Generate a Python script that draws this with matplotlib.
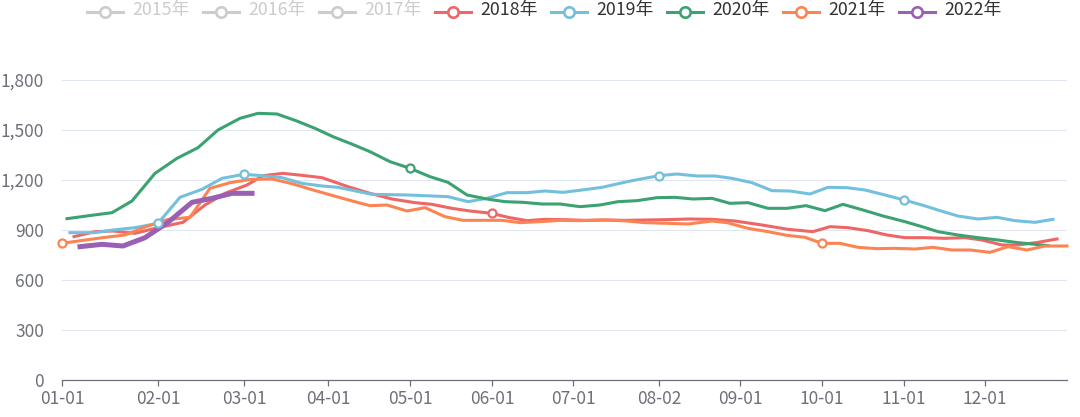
import matplotlib
matplotlib.use("Agg")
import matplotlib.pyplot as plt
from matplotlib.lines import Line2D
from matplotlib.ticker import FuncFormatter

plt.rcParams["font.family"] = ["Noto Sans CJK SC", "DejaVu Sans"]

# x axis is in "week slots" from 01-01 (= 0) to the last slot
TICK_POS = [0, 4.8, 9.1, 13.3, 17.4, 21.5, 25.55, 29.85, 33.9, 38.0, 42.1, 46.15]
TICK_LABELS = ["01-01", "02-01", "03-01", "04-01", "05-01", "06-01",
               "07-01", "08-02", "09-01", "10-01", "11-01", "12-01"]
X_END = 50.25
Y_TICKS = [0, 300, 600, 900, 1200, 1500, 1800]

LEGEND_YEARS = ["2015年", "2016年", "2017年", "2018年",
                "2019年", "2020年", "2021年", "2022年"]
LEGEND_ACTIVE = [False, False, False, True, True, True, True, True]

x_2018 = [0.6, 1.65, 2.55, 3.65, 4.8, 6.05, 7.15, 8.15, 9.25, 10.05, 11.05,
          12.15, 13.0, 14.3, 15.4, 16.5, 17.65, 18.5, 19.5, 20.4, 21.5, 22.3,
          23.25, 24.15, 25.15, 26.15, 27.15, 28.15, 29.15, 30.15, 31.4, 32.5,
          33.65, 35.0, 36.3, 37.55, 38.4, 39.3, 40.3, 41.25, 42.15, 43.15,
          44.15, 45.15, 46.0, 47.0, 47.8, 48.8, 49.75]
y_2018 = [860, 890, 894, 880, 914, 946, 1050, 1120, 1170, 1226, 1240, 1226,
          1214, 1160, 1120, 1086, 1064, 1054, 1030, 1014, 1000, 976, 956, 964,
          962, 958, 960, 958, 960, 962, 966, 964, 954, 930, 904, 890, 920, 914,
          896, 870, 854, 854, 850, 854, 840, 810, 810, 826, 846]
sym_2018 = [21.5]

x_2019 = [0.4, 1.65, 2.55, 3.65, 4.8, 5.9, 7.0, 8.0, 9.1, 10.0, 11.0, 12.0,
          13.0, 13.8, 14.65, 15.5, 16.4, 17.3, 18.5, 19.3, 20.3, 21.25, 22.25,
          23.25, 24.15, 25.05, 26.0, 27.0, 27.75, 28.5, 29.85, 30.75, 31.75,
          32.65, 33.5, 34.5, 35.5, 36.4, 37.4, 38.3, 39.25, 40.15, 41.15, 42.1,
          43.0, 43.9, 44.8, 45.8, 46.75, 47.65, 48.65, 49.55]
y_2019 = [884, 884, 900, 914, 940, 1096, 1144, 1210, 1234, 1226, 1214, 1180,
          1164, 1156, 1135, 1114, 1112, 1110, 1104, 1100, 1070, 1090, 1124,
          1124, 1134, 1126, 1140, 1156, 1176, 1196, 1226, 1236, 1224, 1224,
          1210, 1184, 1136, 1134, 1116, 1156, 1154, 1140, 1110, 1080, 1050,
          1016, 984, 966, 976, 956, 946, 964]
sym_2019 = [4.8, 9.1, 29.85, 42.1]

x_2020 = [0.25, 1.35, 2.5, 3.5, 4.65, 5.75, 6.8, 7.8, 8.9, 9.8, 10.75, 11.7,
          12.65, 13.55, 14.5, 15.4, 16.4, 17.4, 18.4, 19.3, 20.25, 21.25, 22.15,
          23.05, 24.0, 24.9, 25.9, 26.9, 27.8, 28.75, 29.75, 30.65, 31.55, 32.5,
          33.4, 34.3, 35.3, 36.25, 37.2, 38.15, 39.05, 40.05, 41.05, 42.15,
          43.0, 43.8, 44.8, 45.8, 46.8, 47.8, 48.65, 49.3]
y_2020 = [968, 986, 1004, 1074, 1240, 1330, 1394, 1500, 1570, 1600, 1596,
          1556, 1510, 1460, 1415, 1370, 1310, 1270, 1220, 1186, 1110, 1086,
          1070, 1066, 1056, 1056, 1040, 1050, 1070, 1076, 1094, 1096, 1086,
          1090, 1060, 1064, 1030, 1030, 1046, 1016, 1054, 1020, 984, 950, 920,
          890, 870, 854, 840, 824, 814, 806]
sym_2020 = [17.4]

x_2021 = [0, 1.05, 2.1, 3.15, 4.2, 5.25, 6.4, 7.4, 8.4, 9.45, 10.5, 11.5,
          12.55, 13.5, 14.45, 15.4, 16.25, 17.25, 18.15, 19.15, 20.05, 21.0,
          22.0, 22.9, 23.9, 24.9, 25.9, 27.15, 28.15, 29.15, 30.3, 31.3, 32.5,
          33.25, 34.3, 35.3, 36.25, 37.15, 38.0, 38.9, 39.8, 40.75, 41.65,
          42.65, 43.55, 44.5, 45.4, 46.4, 47.3, 48.25, 49.15, 50.25]
y_2021 = [820, 838, 855, 870, 920, 962, 976, 1150, 1184, 1204, 1206, 1178,
          1140, 1108, 1076, 1046, 1050, 1014, 1034, 980, 958, 958, 958, 944,
          950, 958, 956, 960, 955, 944, 940, 936, 954, 944, 910, 890, 868, 856,
          820, 820, 796, 788, 790, 786, 796, 780, 780, 766, 800, 780, 804, 804]
sym_2021 = [0, 38.0]

x_2022 = [0.9, 2.0, 3.05, 4.15, 5.3, 6.5, 7.5, 8.5, 9.5]
y_2022 = [800, 814, 804, 854, 946, 1066, 1090, 1120, 1120]
sym_2022 = []

COLORS = {"2018": "#EE6666", "2019": "#73C0DE", "2020": "#3BA272",
          "2021": "#FC8452", "2022": "#9A60B4"}
INACTIVE = "#CCCCCC"
AXIS_GREY = "#6E7079"

series = [
    ("2018", x_2018, y_2018, sym_2018, 2.2),
    ("2019", x_2019, y_2019, sym_2019, 2.2),
    ("2020", x_2020, y_2020, sym_2020, 2.2),
    ("2021", x_2021, y_2021, sym_2021, 2.2),
    ("2022", x_2022, y_2022, sym_2022, 3.6),
]

W, H = 1080, 417
fig = plt.figure(figsize=(W / 100, H / 100), dpi=100)
ax = fig.add_axes([62 / W, 37 / H, 1005 / W, 300 / H])

for z, (name, xs, ys, syms, lw) in enumerate(series):
    color = COLORS[name]
    ax.plot(xs, ys, color=color, lw=lw, solid_joinstyle="round",
            zorder=3 + z, clip_on=False)
    if syms:
        idx = [xs.index(s) for s in syms]
        ax.plot([xs[i] for i in idx], [ys[i] for i in idx], ls="none",
                marker="o", ms=5.8, mfc="white", mec=color, mew=1.6,
                zorder=10 + z, clip_on=False)

ax.set_xlim(0, X_END)
ax.set_ylim(0, 1800)
ax.set_xticks(TICK_POS)
ax.set_xticklabels(TICK_LABELS)
ax.set_yticks(Y_TICKS)
ax.yaxis.set_major_formatter(FuncFormatter(lambda v, _: f"{int(v):,}"))

ax.grid(axis="y", color="#E0E6F1", lw=0.75)
ax.set_axisbelow(True)
for side in ("top", "right", "left"):
    ax.spines[side].set_visible(False)
ax.spines["bottom"].set_color(AXIS_GREY)
ax.spines["bottom"].set_linewidth(0.9)
ax.tick_params(axis="y", length=0, pad=13, labelcolor=AXIS_GREY,
               labelsize=12.5)
ax.tick_params(axis="x", length=4, width=0.9, color=AXIS_GREY, pad=3,
               labelcolor=AXIS_GREY, labelsize=12.5)

# legend row drawn by hand, ECharts style
for i, (label, active) in enumerate(zip(LEGEND_YEARS, LEGEND_ACTIVE)):
    x0 = 87 + 116 * i
    yc = 1 - 12 / H
    color = COLORS[label[:4]] if active else INACTIVE
    fig.add_artist(Line2D([x0 / W, (x0 + 36) / W], [yc, yc], color=color,
                          lw=2.2, transform=fig.transFigure))
    fig.add_artist(Line2D([(x0 + 18) / W], [yc], marker="o", ms=7.5,
                          mfc="white", mec=color, mew=1.9,
                          transform=fig.transFigure))
    fig.text((x0 + 45) / W, yc + 1.5 / H, label, fontsize=12.8,
             color="#333333" if active else INACTIVE, ha="left", va="center")

fig.savefig("out.png", dpi=100)
